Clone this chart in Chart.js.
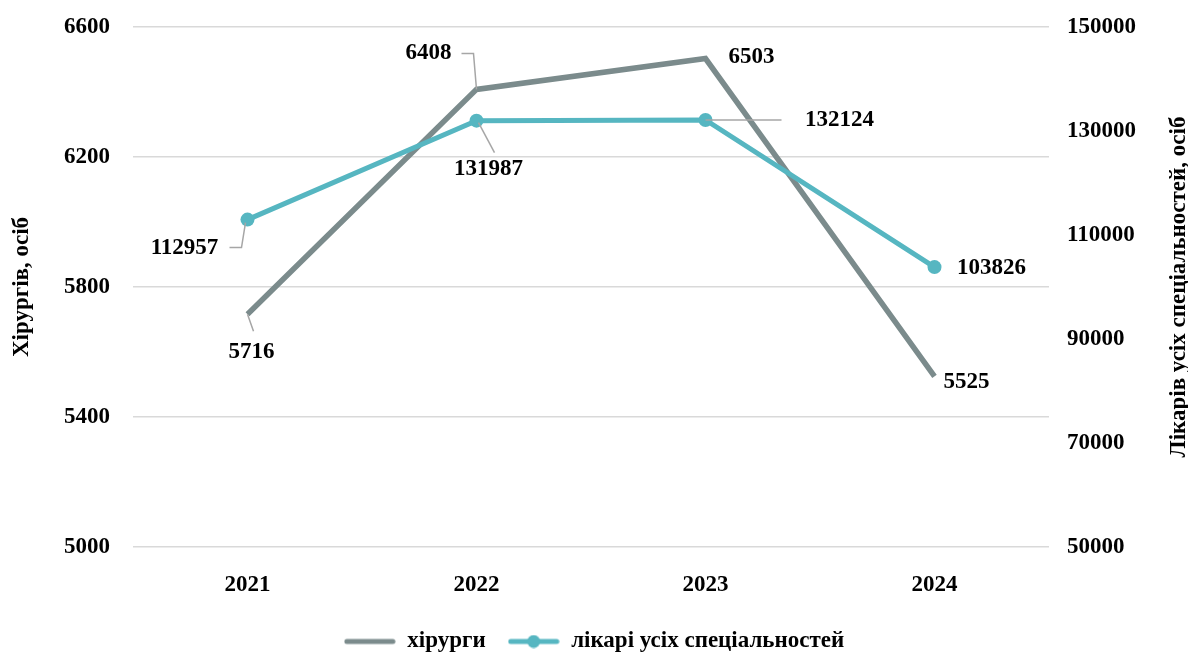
<!DOCTYPE html>
<html>
<head>
<meta charset="utf-8">
<script src="https://cdn.jsdelivr.net/npm/chart.js@4"></script>
<style>
  html, body { margin: 0; padding: 0; background: #fff; }
  #chart { display: block; }
</style>
</head>
<body>
<canvas id="chart" width="1188" height="655"></canvas>
<script>
const years = ["2021", "2022", "2023", "2024"];
const surgeons = [5716, 6408, 6503, 5525];
const allDoctors = [112957, 131987, 132124, 103826];
const leftTicks = [5000, 5400, 5800, 6200, 6600];
const rightTicks = [50000, 70000, 90000, 110000, 130000, 150000];
const rightTitle = "Лікарів усіх спеціальностей, осіб";

const GRAY = "#7b8b8c";
const TEAL = "#56b6c1";
const FONT = "'Liberation Serif', 'Times New Roman', serif";
const FSIZE = 23;

// where each value label sits relative to its point, plus leader line
const labelLayout = [
  [
    { dx: 4, dy: 38, leader: [[0, 0], [6, 17]] },
    { dx: -48, dy: -36, leader: [[0, 0], [-3, -36], [-15, -36]] },
    { dx: 46, dy: -1 },
    { dx: 32, dy: 6 }
  ],
  [
    { dx: -63, dy: 28, leader: [[-2, 3], [-6, 28], [-18, 28]] },
    { dx: 12, dy: 48, leader: [[2, 2], [18, 32]] },
    { dx: 134, dy: 0, leader: [[0, 0], [76, 0]] },
    { dx: 57, dy: 1 }
  ]
];

const valueLabels = {
  id: "valueLabels",
  afterDatasetsDraw(chart) {
    const ctx = chart.ctx;
    ctx.save();
    chart.data.datasets.forEach((ds, di) => {
      const meta = chart.getDatasetMeta(di);
      meta.data.forEach((pt, i) => {
        const lay = labelLayout[di][i];
        if (lay.leader) {
          ctx.beginPath();
          ctx.strokeStyle = "#a6a6a6";
          ctx.lineWidth = 1.5;
          lay.leader.forEach(([lx, ly], k) => {
            if (k === 0) ctx.moveTo(pt.x + lx, pt.y + ly);
            else ctx.lineTo(pt.x + lx, pt.y + ly);
          });
          ctx.stroke();
        }
        ctx.fillStyle = "#000";
        ctx.font = "bold " + FSIZE + "px " + FONT;
        ctx.textAlign = "center";
        ctx.textBaseline = "middle";
        ctx.fillText(String(ds.data[i]), pt.x + lay.dx, pt.y + lay.dy);
      });
    });
    // right axis title, reading bottom to top
    const area = chart.chartArea;
    ctx.translate(1179, (area.top + area.bottom) / 2);
    ctx.rotate(-Math.PI / 2);
    ctx.fillText(rightTitle, 0, 0);
    ctx.restore();
  }
};

function legendSwatch(color, dot) {
  const c = document.createElement("canvas");
  c.width = 52;
  c.height = 14;
  const g = c.getContext("2d");
  g.strokeStyle = color;
  g.lineWidth = 5;
  g.lineCap = "round";
  g.beginPath();
  g.moveTo(3, 7);
  g.lineTo(49, 7);
  g.stroke();
  if (dot) {
    g.fillStyle = color;
    g.beginPath();
    g.arc(26, 7, 6.5, 0, Math.PI * 2);
    g.fill();
  }
  return c;
}
const swatches = [legendSwatch(GRAY, false), legendSwatch(TEAL, true)];

const tickFont = { family: FONT, size: FSIZE, weight: "bold" };

// fixed width for a side axis, and no extra room above/below the plot
function fitSide(width) {
  return (s) => {
    s.width = width;
    s.paddingTop = 0;
    s.paddingBottom = 0;
  };
}

const ctx = document.getElementById("chart").getContext("2d");
const myChart = new Chart(ctx, {
  type: "line",
  data: {
    labels: years,
    datasets: [
      {
        label: "хірурги",
        data: surgeons,
        yAxisID: "y",
        borderColor: GRAY,
        backgroundColor: GRAY,
        borderWidth: 5.5,
        pointRadius: 0,
        pointHoverRadius: 0,
        order: 1
      },
      {
        label: "лікарі усіх спеціальностей",
        data: allDoctors,
        yAxisID: "y1",
        borderColor: TEAL,
        backgroundColor: TEAL,
        borderWidth: 5,
        pointRadius: 7,
        pointHoverRadius: 7,
        pointBorderWidth: 0,
        order: 0
      }
    ]
  },
  options: {
    responsive: false,
    animation: false,
    layout: { padding: { top: 27, bottom: -8 } },
    plugins: {
      tooltip: { enabled: false },
      legend: {
        position: "bottom",
        labels: {
          color: "#000",
          font: tickFont,
          usePointStyle: true,
          pointStyleWidth: 52,
          padding: 22,
          generateLabels: (chart) =>
            chart.data.datasets.map((ds, i) => ({
              text: ds.label,
              pointStyle: swatches[i],
              fillStyle: ds.borderColor,
              strokeStyle: ds.borderColor,
              lineWidth: 0,
              datasetIndex: i,
              hidden: false
            }))
        }
      }
    },
    scales: {
      x: {
        offset: true,
        grid: { display: false },
        border: { display: false },
        afterFit: (s) => { s.height = 61; },
        ticks: {
          color: "#000",
          padding: 16,
          font: tickFont
        }
      },
      y: {
        position: "left",
        min: 5000,
        max: 6600,
        afterBuildTicks: (s) => { s.ticks = leftTicks.map((v) => ({ value: v })); },
        afterFit: fitSide(133),
        grid: { color: "#d9d9d9", lineWidth: 1.5, drawTicks: false },
        border: { display: false },
        ticks: {
          color: "#000",
          padding: 23,
          font: tickFont,
          callback: (v) => String(v)
        },
        title: {
          display: true,
          text: "Хірургів, осіб",
          color: "#000",
          padding: { top: 8, bottom: 0 },
          font: tickFont
        }
      },
      y1: {
        position: "right",
        min: 50000,
        max: 150000,
        afterBuildTicks: (s) => { s.ticks = rightTicks.map((v) => ({ value: v })); },
        afterFit: fitSide(139),
        grid: { drawOnChartArea: false, drawTicks: false },
        border: { display: false },
        ticks: {
          color: "#000",
          padding: 18,
          font: tickFont,
          callback: (v) => String(v)
        }
      }
    }
  },
  plugins: [valueLabels]
});
</script>
</body>
</html>
